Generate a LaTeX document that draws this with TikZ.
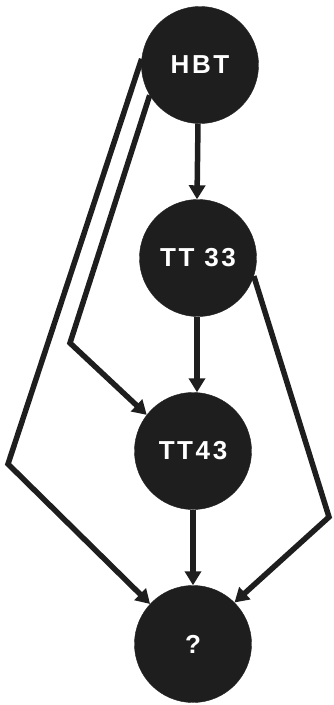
\documentclass[tikz,border=0pt]{standalone}
\usepackage{fontspec}
\setmainfont{Liberation Sans}[LetterSpace=10]
\usetikzlibrary{arrows.meta}
\definecolor{ink}{HTML}{1E1E1E}
\tikzset{
  blob/.style={circle, fill=ink, draw=ink, minimum size=117pt, inner sep=0pt,
    text=white, font=\fontsize{26}{26}\selectfont\bfseries},
  link/.style={draw=ink, line width=5.5pt, line join=miter},
  tip/.style={-{Triangle[length=14pt,width=16pt]}}
}
\begin{document}
\begin{tikzpicture}[x=1pt,y=-1pt]
\useasboundingbox (0,0) rectangle (334,705);
\node[blob] (hbt) at (200,65) {HBT};
\node[blob] (tt33) at (198,258) {TT 33};
\node[blob] (tt43) at (193,451) {TT43};
\node[blob] (q) at (193,644) {?};
\coordinate (lo) at (8,464);
\coordinate (li) at (70,343);
\coordinate (ro) at (329,517);
\draw[link,tip] ([xshift=-2pt]hbt.south) -- ([xshift=-1pt]tt33.north);
\draw[link,tip] ([xshift=-1pt]tt33.south) -- ([xshift=4pt]tt43.north);
\draw[link,tip] (tt43.south) -- (q.north);
\draw[link,tip] (hbt.174) -- (lo) -- (q.137);
\draw[link,tip] (hbt.211) -- (li) -- (tt43.142);
\draw[link,tip] (tt33.-18) -- (ro) -- (q.45);
\end{tikzpicture}
\end{document}
